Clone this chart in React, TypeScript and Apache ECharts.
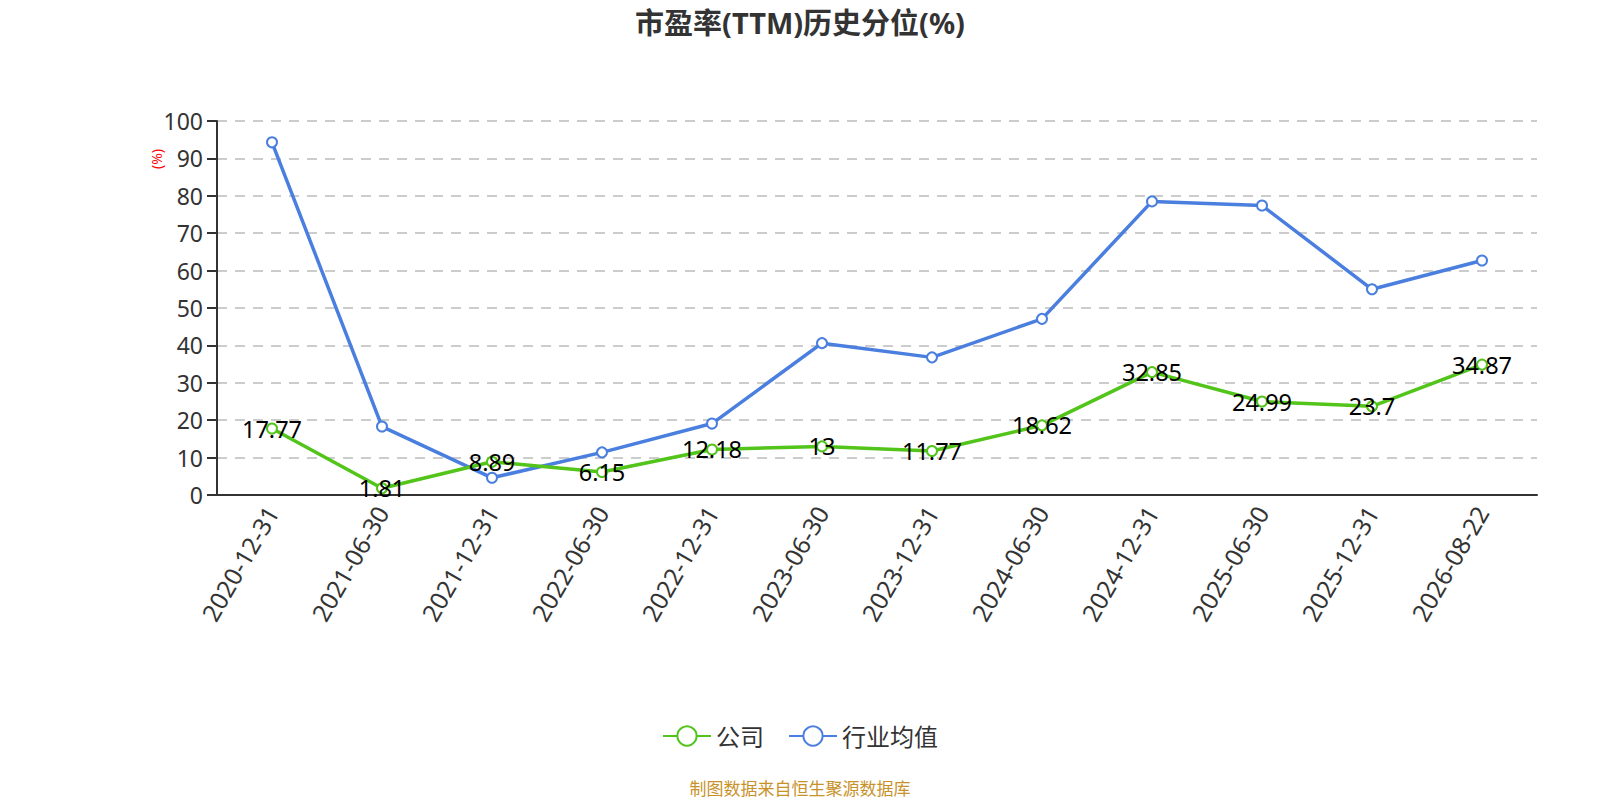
import React, { useEffect, useRef } from "react";
import * as echarts from "echarts";

const categories = [
  "2020-12-31", "2021-06-30", "2021-12-31", "2022-06-30", "2022-12-31", "2023-06-30",
  "2023-12-31", "2024-06-30", "2024-12-31", "2025-06-30", "2025-12-31", "2026-08-22",
];
const companyValues = [17.77, 1.81, 8.89, 6.15, 12.18, 13, 11.77, 18.62, 32.85, 24.99, 23.7, 34.87];
const industryValues = [94.3, 18.3, 4.6, 11.4, 19.1, 40.6, 36.8, 47.1, 78.5, 77.4, 55.0, 62.7];
const seriesNames = ["公司", "行业均值"];
const titleText = "市盈率(TTM)历史分位(%)";
const footerText = "制图数据来自恒生聚源数据库";
const unitText = "(%)";

const FONT = "'Noto Sans', 'Noto Sans CJK SC', sans-serif";
const GREEN = "#52c41a";
const BLUE = "#4a7fdf";

export default function App() {
  const ref = useRef<HTMLDivElement>(null);
  useEffect(() => {
    document.body.style.margin = "0";
    if (!ref.current) return;
    const chart = echarts.init(ref.current, null, { renderer: "svg" });
    chart.setOption({
      animation: false,
      backgroundColor: "#ffffff",
      textStyle: { fontFamily: FONT },
      title: {
        text: titleText,
        left: "center",
        top: 3,
        textStyle: { fontSize: 29, fontWeight: "bold", color: "#333", fontFamily: FONT },
      },
      legend: {
        bottom: 47,
        left: "center",
        itemWidth: 48,
        itemHeight: 24,
        itemGap: 24,
        textStyle: { fontSize: 24, color: "#333", fontFamily: FONT },
        data: seriesNames,
      },
      graphic: [
        {
          type: "text",
          left: "center",
          bottom: 3,
          style: { text: footerText, fill: "#c8922a", fontSize: 17, fontFamily: FONT },
        },
        {
          type: "text",
          x: 156,
          y: 159,
          rotation: Math.PI / 2,
          style: {
            text: unitText,
            fill: "#ff0000",
            fontSize: 14,
            fontFamily: FONT,
            align: "center",
            verticalAlign: "middle",
          },
        },
      ],
      grid: { left: 217, right: 63, top: 121, bottom: 305, containLabel: false },
      xAxis: {
        type: "category",
        data: categories,
        boundaryGap: true,
        axisLine: { lineStyle: { color: "#333", width: 2 } },
        axisTick: { length: 10, lineStyle: { color: "#333", width: 2 } },
        axisLabel: { rotate: 60, fontSize: 24.5, color: "#333", margin: 13, interval: 0, fontFamily: FONT },
        splitLine: { show: false },
      },
      yAxis: {
        type: "value",
        min: 0,
        max: 100,
        interval: 10,
        axisLine: { show: true, lineStyle: { color: "#333", width: 2 } },
        axisTick: { show: true, length: 10, lineStyle: { color: "#333", width: 2 } },
        axisLabel: { fontSize: 23, color: "#333", margin: 14, fontFamily: FONT },
        splitLine: { lineStyle: { color: "#ccc", type: [10, 8], width: 2 } },
      },
      series: [
        {
          name: seriesNames[0],
          type: "line",
          data: companyValues,
          symbol: "emptyCircle",
          symbolSize: 10,
          itemStyle: { color: GREEN, borderWidth: 2 },
          lineStyle: { color: GREEN, width: 3.5 },
          label: {
            show: true,
            position: "inside",
            fontSize: 23.5,
            color: "#000",
            fontFamily: FONT,
          },
          z: 3,
        },
        {
          name: seriesNames[1],
          type: "line",
          data: industryValues,
          symbol: "emptyCircle",
          symbolSize: 10,
          itemStyle: { color: BLUE, borderWidth: 2 },
          lineStyle: { color: BLUE, width: 3.5 },
          label: { show: false },
          z: 2,
        },
      ],
    });
    return () => chart.dispose();
  }, []);
  return <div ref={ref} style={{ width: 1600, height: 800 }} />;
}
